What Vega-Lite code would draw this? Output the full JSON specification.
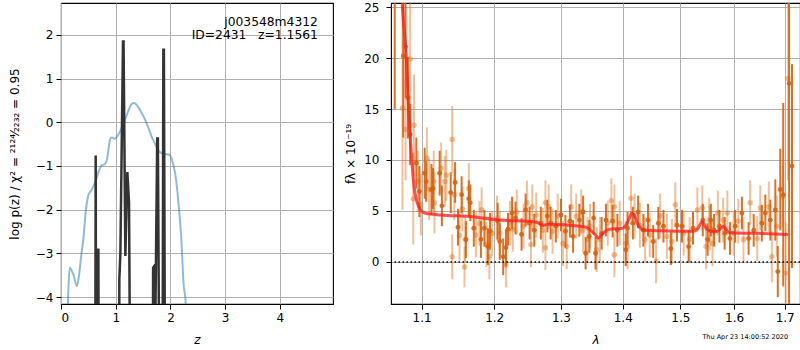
{
  "$schema": "https://vega.github.io/schema/vega-lite/v6.json",
  "padding": {"left": 7, "top": 0, "right": 0, "bottom": 0},
  "spacing": 10,
  "config": {
    "font": "DejaVu Sans",
    "view": {"stroke": "black", "strokeWidth": 1.1},
    "text": {"font": "DejaVu Sans"},
    "axis": {"labelFont": "DejaVu Sans", "labelFontSize": 12, "labelColor": "black", "titleFont": "DejaVu Sans", "titleFontSize": 12, "titleFontWeight": "normal", "titleColor": "black", "tickColor": "black", "tickSize": 5, "labelPadding": 3, "domain": false, "grid": true, "gridColor": "#b0b0b0", "gridWidth": 1}
  },
  "datasets": {
    "pz": [
      {"z": 0.10, "p": -5.0}, {"z": 0.13, "p": -4.0}, {"z": 0.158, "p": -3.33}, {"z": 0.19, "p": -3.38}, {"z": 0.23, "p": -3.5}, {"z": 0.29, "p": -3.75}, {"z": 0.33, "p": -3.5}, {"z": 0.37, "p": -3.05}, {"z": 0.41, "p": -2.65}, {"z": 0.456, "p": -2.0}, {"z": 0.505, "p": -1.65}, {"z": 0.56, "p": -1.55}, {"z": 0.60, "p": -1.45}, {"z": 0.65, "p": -1.28}, {"z": 0.69, "p": -1.12}, {"z": 0.74, "p": -0.99}, {"z": 0.80, "p": -0.96}, {"z": 0.84, "p": -0.85}, {"z": 0.87, "p": -0.6}, {"z": 0.90, "p": -0.38}, {"z": 0.93, "p": -0.35}, {"z": 0.98, "p": -0.38}, {"z": 1.04, "p": -0.3}, {"z": 1.10, "p": -0.15}, {"z": 1.15, "p": 0.0}, {"z": 1.20, "p": 0.16}, {"z": 1.26, "p": 0.35}, {"z": 1.30, "p": 0.43}, {"z": 1.34, "p": 0.44}, {"z": 1.38, "p": 0.40}, {"z": 1.42, "p": 0.33}, {"z": 1.48, "p": 0.2}, {"z": 1.54, "p": 0.05}, {"z": 1.60, "p": -0.14}, {"z": 1.66, "p": -0.34}, {"z": 1.72, "p": -0.5}, {"z": 1.78, "p": -0.65}, {"z": 1.84, "p": -0.71}, {"z": 1.90, "p": -0.73}, {"z": 1.97, "p": -0.74}, {"z": 2.03, "p": -0.87}, {"z": 2.09, "p": -1.2}, {"z": 2.15, "p": -1.9}, {"z": 2.20, "p": -2.7}, {"z": 2.24, "p": -3.7}, {"z": 2.27, "p": -4.0}, {"z": 2.30, "p": -4.6}
    ],
    "chi": [
      {"z": 0.0, "p": -8}, {"z": 0.624, "p": -8}, {"z": 0.634, "p": -0.76}, {"z": 0.644, "p": -8}, {"z": 0.674, "p": -8}, {"z": 0.683, "p": -2.89}, {"z": 0.692, "p": -8},
      {"z": 1.058, "p": -8}, {"z": 1.066, "p": -3.59}, {"z": 1.085, "p": -3.0}, {"z": 1.133, "p": 1.85}, {"z": 1.143, "p": 1.85}, {"z": 1.176, "p": -3.06}, {"z": 1.212, "p": -1.14}, {"z": 1.243, "p": -1.83}, {"z": 1.273, "p": -8},
      {"z": 1.675, "p": -8}, {"z": 1.683, "p": -3.33}, {"z": 1.700, "p": -3.3}, {"z": 1.712, "p": -6}, {"z": 1.758, "p": -0.37}, {"z": 1.770, "p": -0.37}, {"z": 1.805, "p": -8}, {"z": 1.852, "p": -8}, {"z": 1.870, "p": 1.66}, {"z": 1.880, "p": 1.66}, {"z": 1.905, "p": -8}, {"z": 4.97, "p": -8}
    ],
    "dark": [
      {"l": 1.065, "f": 27, "e": 12}, {"l": 1.076, "f": 20.2, "e": 8}, {"l": 1.079, "f": 21.1, "e": 5}, {"l": 1.082, "f": 16.1, "e": 4}, {"l": 1.085, "f": 12.5, "e": 3}, {"l": 1.093, "f": 9.7, "e": 2.5}, {"l": 1.097, "f": 6.9, "e": 2.5}, {"l": 1.104, "f": 8.7, "e": 2.5}, {"l": 1.106, "f": 7.9, "e": 2}, {"l": 1.113, "f": 7.1, "e": 2.5}, {"l": 1.115, "f": 7.2, "e": 2}, {"l": 1.124, "f": 8.7, "e": 2.2}, {"l": 1.127, "f": 5.5, "e": 2}, {"l": 1.139, "f": 6.8, "e": 2}, {"l": 1.145, "f": 7.8, "e": 2}, {"l": 1.149, "f": 3.4, "e": 1.8}, {"l": 1.154, "f": 6.6, "e": 1.8}, {"l": 1.160, "f": 2.2, "e": 1.8}, {"l": 1.164, "f": 6.2, "e": 1.8},
      {"l": 1.166, "f": 5.8, "e": 1.8}, {"l": 1.171, "f": 3.3, "e": 1.8}, {"l": 1.181, "f": 2.2, "e": 1.8}, {"l": 1.186, "f": 3.3, "e": 1.8}, {"l": 1.191, "f": 1.5, "e": 1.8}, {"l": 1.194, "f": 3.0, "e": 1.8}, {"l": 1.205, "f": 4.0, "e": 1.8}, {"l": 1.208, "f": 2.0, "e": 1.8}, {"l": 1.213, "f": 0.5, "e": 1.8}, {"l": 1.217, "f": 1.4, "e": 1.8}, {"l": 1.220, "f": 3.2, "e": 1.6}, {"l": 1.226, "f": 4.8, "e": 1.6}, {"l": 1.231, "f": 4.3, "e": 1.6}, {"l": 1.240, "f": 2.7, "e": 1.6}, {"l": 1.246, "f": 5.1, "e": 1.6}, {"l": 1.252, "f": 3.8, "e": 1.6}, {"l": 1.259, "f": 3.1, "e": 1.6}, {"l": 1.269, "f": 3.8, "e": 1.6},
      {"l": 1.279, "f": 4.5, "e": 1.6}, {"l": 1.284, "f": 3.8, "e": 1.6}, {"l": 1.292, "f": 3.5, "e": 1.6}, {"l": 1.300, "f": 4.6, "e": 1.6}, {"l": 1.307, "f": 3.0, "e": 1.6}, {"l": 1.314, "f": 4.0, "e": 1.6}, {"l": 1.319, "f": 2.5, "e": 1.6}, {"l": 1.329, "f": 4.1, "e": 1.6}, {"l": 1.335, "f": 4.9, "e": 1.6}, {"l": 1.339, "f": 0.85, "e": 1.6}, {"l": 1.345, "f": 2.5, "e": 1.6}, {"l": 1.352, "f": 4.3, "e": 1.6}, {"l": 1.355, "f": 0.85, "e": 1.6}, {"l": 1.365, "f": 2.8, "e": 1.6}, {"l": 1.372, "f": 4.1, "e": 1.6}, {"l": 1.383, "f": 4.0, "e": 1.6}, {"l": 1.391, "f": 3.1, "e": 1.6}, {"l": 1.405, "f": 1.2, "e": 1.6},
      {"l": 1.408, "f": 3.3, "e": 1.6}, {"l": 1.417, "f": 3.8, "e": 1.6}, {"l": 1.426, "f": 4.9, "e": 1.6}, {"l": 1.435, "f": 3.1, "e": 1.6}, {"l": 1.443, "f": 4.1, "e": 1.6}, {"l": 1.452, "f": 2.0, "e": 1.6}, {"l": 1.461, "f": 3.8, "e": 1.6}, {"l": 1.470, "f": 3.5, "e": 1.6}, {"l": 1.483, "f": 1.3, "e": 1.6}, {"l": 1.494, "f": 3.6, "e": 1.6}, {"l": 1.503, "f": 3.5, "e": 1.6}, {"l": 1.515, "f": 1.5, "e": 1.6}, {"l": 1.523, "f": 3.3, "e": 1.6}, {"l": 1.541, "f": 4.1, "e": 1.6}, {"l": 1.550, "f": 2.2, "e": 1.6},
      {"l": 1.556, "f": 4.1, "e": 1.6}, {"l": 1.562, "f": 3.1, "e": 1.6}, {"l": 1.572, "f": 3.5, "e": 1.6}, {"l": 1.582, "f": 2.8, "e": 1.6}, {"l": 1.592, "f": 2.3, "e": 1.6}, {"l": 1.602, "f": 3.5, "e": 1.6}, {"l": 1.615, "f": 4.8, "e": 1.6}, {"l": 1.628, "f": 2.3, "e": 1.6}, {"l": 1.638, "f": 3.1, "e": 1.6}, {"l": 1.654, "f": 3.8, "e": 1.8}, {"l": 1.661, "f": 4.8, "e": 1.8}, {"l": 1.671, "f": 4.1, "e": 2}, {"l": 1.681, "f": 5.1, "e": 3}, {"l": 1.686, "f": -0.95, "e": 2.5}, {"l": 1.691, "f": 7.1, "e": 4}, {"l": 1.697, "f": 6.6, "e": 9}, {"l": 1.709, "f": 17.5, "e": 26}, {"l": 1.715, "f": 9.4, "e": 10}
    ],
    "light": [
      {"l": 1.075, "f": 15.1, "e": 10}, {"l": 1.079, "f": 13.0, "e": 5}, {"l": 1.085, "f": 19.9, "e": 7}, {"l": 1.090, "f": 13.4, "e": 5}, {"l": 1.089, "f": 6.2, "e": 4.5}, {"l": 1.095, "f": 7.9, "e": 3}, {"l": 1.099, "f": 5.6, "e": 3}, {"l": 1.107, "f": 10.2, "e": 3}, {"l": 1.110, "f": 7.1, "e": 3}, {"l": 1.116, "f": 7.9, "e": 3}, {"l": 1.117, "f": 5.8, "e": 3}, {"l": 1.126, "f": 9.2, "e": 2.5}, {"l": 1.131, "f": 7.9, "e": 2.5}, {"l": 1.133, "f": 8.5, "e": 2.5}, {"l": 1.141, "f": 12.0, "e": 3.3}, {"l": 1.141, "f": 0.5, "e": 2.2}, {"l": 1.144, "f": 6.6, "e": 2.5}, {"l": 1.151, "f": 2.6, "e": 2.5}, {"l": 1.155, "f": 5.2, "e": 2.2}, {"l": 1.158, "f": -0.5, "e": 2}, {"l": 1.164, "f": 7.2, "e": 2.5},
      {"l": 1.159, "f": 2.2, "e": 2.2}, {"l": 1.174, "f": 2.65, "e": 2.2}, {"l": 1.179, "f": 3.8, "e": 2.2}, {"l": 1.182, "f": 5.1, "e": 2.2}, {"l": 1.189, "f": 1.7, "e": 2.2}, {"l": 1.193, "f": 0.5, "e": 2.2}, {"l": 1.197, "f": 2.8, "e": 2.2}, {"l": 1.204, "f": 4.3, "e": 2.2}, {"l": 1.208, "f": 2.8, "e": 2.2}, {"l": 1.217, "f": -0.3, "e": 2.2}, {"l": 1.223, "f": 3.8, "e": 2.2}, {"l": 1.227, "f": 3.2, "e": 2.2}, {"l": 1.233, "f": 4.9, "e": 2.2}, {"l": 1.243, "f": 3.5, "e": 2.2}, {"l": 1.248, "f": 5.8, "e": 2.2}, {"l": 1.254, "f": 1.7, "e": 2.2}, {"l": 1.256, "f": 5.4, "e": 2.2}, {"l": 1.262, "f": 4.6, "e": 2.2}, {"l": 1.272, "f": 3.1, "e": 2.2}, {"l": 1.276, "f": 1.4, "e": 2.2}, {"l": 1.276, "f": 5.8, "e": 2.2},
      {"l": 1.281, "f": 5.4, "e": 2.2}, {"l": 1.287, "f": 3.0, "e": 2.2}, {"l": 1.295, "f": 4.5, "e": 2.2}, {"l": 1.303, "f": 1.8, "e": 2.2}, {"l": 1.309, "f": 1.5, "e": 2.2}, {"l": 1.316, "f": 5.4, "e": 2.2}, {"l": 1.324, "f": 4.5, "e": 2.2}, {"l": 1.332, "f": 4.9, "e": 2.2}, {"l": 1.335, "f": 3.1, "e": 2.2}, {"l": 1.342, "f": 2.2, "e": 2.2}, {"l": 1.346, "f": 3.5, "e": 2.2}, {"l": 1.357, "f": 1.2, "e": 2.2}, {"l": 1.362, "f": 2.2, "e": 2.2}, {"l": 1.375, "f": 3.8, "e": 2.2}, {"l": 1.381, "f": 6.0, "e": 2.2}, {"l": 1.386, "f": 5.4, "e": 2.2}, {"l": 1.386, "f": 0.7, "e": 2.2}, {"l": 1.395, "f": 3.8, "e": 2.2}, {"l": 1.408, "f": 1.5, "e": 2.2},
      {"l": 1.405, "f": 1.8, "e": 2.2}, {"l": 1.414, "f": 6.25, "e": 2.2}, {"l": 1.420, "f": 4.5, "e": 2.2}, {"l": 1.429, "f": 3.6, "e": 2.2}, {"l": 1.438, "f": 2.2, "e": 2.2}, {"l": 1.446, "f": 2.65, "e": 2.2}, {"l": 1.457, "f": 0.1, "e": 2.2}, {"l": 1.464, "f": 4.5, "e": 2.2}, {"l": 1.476, "f": 2.5, "e": 2.2}, {"l": 1.485, "f": 2.0, "e": 2.2}, {"l": 1.491, "f": 5.6, "e": 2.2}, {"l": 1.506, "f": 2.8, "e": 2.2}, {"l": 1.517, "f": 2.2, "e": 2.2}, {"l": 1.531, "f": 5.1, "e": 2.2}, {"l": 1.540, "f": 5.3, "e": 2.2}, {"l": 1.547, "f": 1.5, "e": 2.2}, {"l": 1.554, "f": 3.3, "e": 2.2},
      {"l": 1.553, "f": 4.1, "e": 2.2}, {"l": 1.559, "f": 1.8, "e": 2.2}, {"l": 1.569, "f": 4.8, "e": 2.2}, {"l": 1.579, "f": 4.1, "e": 2.2}, {"l": 1.587, "f": 4.8, "e": 2.2}, {"l": 1.599, "f": 2.8, "e": 2.2}, {"l": 1.608, "f": 4.0, "e": 2.2}, {"l": 1.618, "f": 2.2, "e": 2.2}, {"l": 1.631, "f": 5.8, "e": 2.2}, {"l": 1.645, "f": 2.3, "e": 2.2}, {"l": 1.651, "f": 5.3, "e": 2.2}, {"l": 1.668, "f": 5.4, "e": 2.5}, {"l": 1.674, "f": 0.5, "e": 2.5}, {"l": 1.684, "f": 3.5, "e": 3}, {"l": 1.696, "f": 6.4, "e": 3}, {"l": 1.702, "f": -1.1, "e": 5}, {"l": 1.707, "f": 18.0, "e": 10}
    ],
    "model": [
      {"l": 1.073, "f": 28}, {"l": 1.075, "f": 25}, {"l": 1.080, "f": 20}, {"l": 1.083, "f": 15}, {"l": 1.087, "f": 10}, {"l": 1.090, "f": 7.4}, {"l": 1.093, "f": 6.1}, {"l": 1.097, "f": 5.3}, {"l": 1.104, "f": 4.8}, {"l": 1.126, "f": 4.6}, {"l": 1.166, "f": 4.45}, {"l": 1.208, "f": 4.1}, {"l": 1.257, "f": 3.95}, {"l": 1.266, "f": 3.8}, {"l": 1.271, "f": 3.55}, {"l": 1.281, "f": 3.7}, {"l": 1.33, "f": 3.5}, {"l": 1.34, "f": 3.4}, {"l": 1.347, "f": 3.1}, {"l": 1.354, "f": 2.7}, {"l": 1.36, "f": 2.35}, {"l": 1.367, "f": 2.8}, {"l": 1.378, "f": 3.2}, {"l": 1.4, "f": 3.3}, {"l": 1.408, "f": 3.9}, {"l": 1.4157, "f": 4.8}, {"l": 1.42, "f": 4.5}, {"l": 1.426, "f": 3.6}, {"l": 1.438, "f": 3.1}, {"l": 1.464, "f": 3.05}, {"l": 1.523, "f": 3.0}, {"l": 1.532, "f": 3.3}, {"l": 1.540, "f": 3.95}, {"l": 1.547, "f": 3.3}, {"l": 1.556, "f": 3.0}, {"l": 1.565, "f": 2.95}, {"l": 1.575, "f": 3.3}, {"l": 1.580, "f": 3.5}, {"l": 1.586, "f": 3.1}, {"l": 1.592, "f": 2.85}, {"l": 1.645, "f": 2.8}, {"l": 1.707, "f": 2.7}
    ]
  },
  "hconcat": [
    {
      "width": 272,
      "height": 301,
      "encoding": {
        "x": {"field": "z", "type": "quantitative", "scale": {"domain": [0, 4.97], "nice": false, "zero": false}, "axis": {"values": [0, 1, 2, 3, 4], "title": "z", "titleFontStyle": "italic", "titlePadding": 11}},
        "y": {"field": "p", "type": "quantitative", "scale": {"domain": [-4.16, 2.73], "nice": false, "zero": false}, "axis": {"values": [-4, -3, -2, -1, 0, 1, 2], "title": "log p(z) / χ² = ²¹²⁴⁄₂₂₃₂ = 0.95", "titlePadding": 14, "labelPadding": 3}}
      },
      "layer": [
        {"data": {"name": "pz"}, "mark": {"type": "line", "color": "#1f77b4", "opacity": 0.5, "strokeWidth": 2, "clip": true, "interpolate": "monotone"}},
        {"data": {"name": "chi"}, "mark": {"type": "line", "color": "#333333", "strokeWidth": 2.5, "clip": true}},
        {"data": {"values": [{"z": 4.694, "p": 2.207, "t": "j003548m4312"}, {"z": 4.694, "p": 1.9, "t": "ID=2431\u00a0\u00a0\u00a0z=1.1561"}]}, "mark": {"type": "text", "align": "right", "baseline": "alphabetic", "font": "DejaVu Sans", "fontSize": 12.3, "color": "black"}, "encoding": {"text": {"field": "t"}}}
      ]
    },
    {
      "width": 409,
      "height": 301,
      "encoding": {
        "x": {"field": "l", "type": "quantitative", "scale": {"type": "log", "domain": [1.0603, 1.7315], "nice": false, "zero": false}, "axis": {"values": [1.1, 1.2, 1.3, 1.4, 1.5, 1.6, 1.7], "format": ".1f", "title": "λ", "titleFontStyle": "italic", "titlePadding": 11}},
        "y": {"field": "f", "type": "quantitative", "scale": {"domain": [-4.13, 25.4], "nice": false, "zero": false}, "axis": {"values": [0, 5, 10, 15, 20, 25], "title": "fλ × 10⁻¹⁹", "titlePadding": 6, "labelPadding": 7}}
      },
      "layer": [
        {"data": {"name": "light"}, "mark": {"type": "errorbar", "ticks": false, "clip": true, "thickness": 2, "color": "#e0701a", "opacity": 0.45}, "encoding": {"yError": {"field": "e"}}},
        {"data": {"name": "light"}, "mark": {"type": "circle", "size": 30, "color": "#e0701a", "opacity": 0.45, "clip": true}},
        {"data": {"name": "dark"}, "mark": {"type": "errorbar", "ticks": false, "clip": true, "thickness": 2, "color": "#d8620e", "opacity": 0.9}, "encoding": {"yError": {"field": "e"}}},
        {"data": {"name": "dark"}, "mark": {"type": "circle", "size": 24, "color": "#d8620e", "opacity": 0.9, "clip": true}},
        {"data": {"name": "model"}, "mark": {"type": "line", "color": "#ff1a1a", "opacity": 0.75, "strokeWidth": 3, "clip": true, "interpolate": "monotone"}},
        {"data": {"values": [{"f": 0}]}, "mark": {"type": "rule", "color": "black", "strokeWidth": 1.5, "strokeDash": [1.5, 2.5]}, "encoding": {"x": null}},
        {"data": {"values": [{"l": 1.707, "f": -7.6, "t": "Thu Apr 23 14:00:52 2020"}]}, "mark": {"type": "text", "align": "right", "baseline": "alphabetic", "fontSize": 6.5, "color": "black"}, "encoding": {"text": {"field": "t"}}}
      ]
    }
  ]
}
